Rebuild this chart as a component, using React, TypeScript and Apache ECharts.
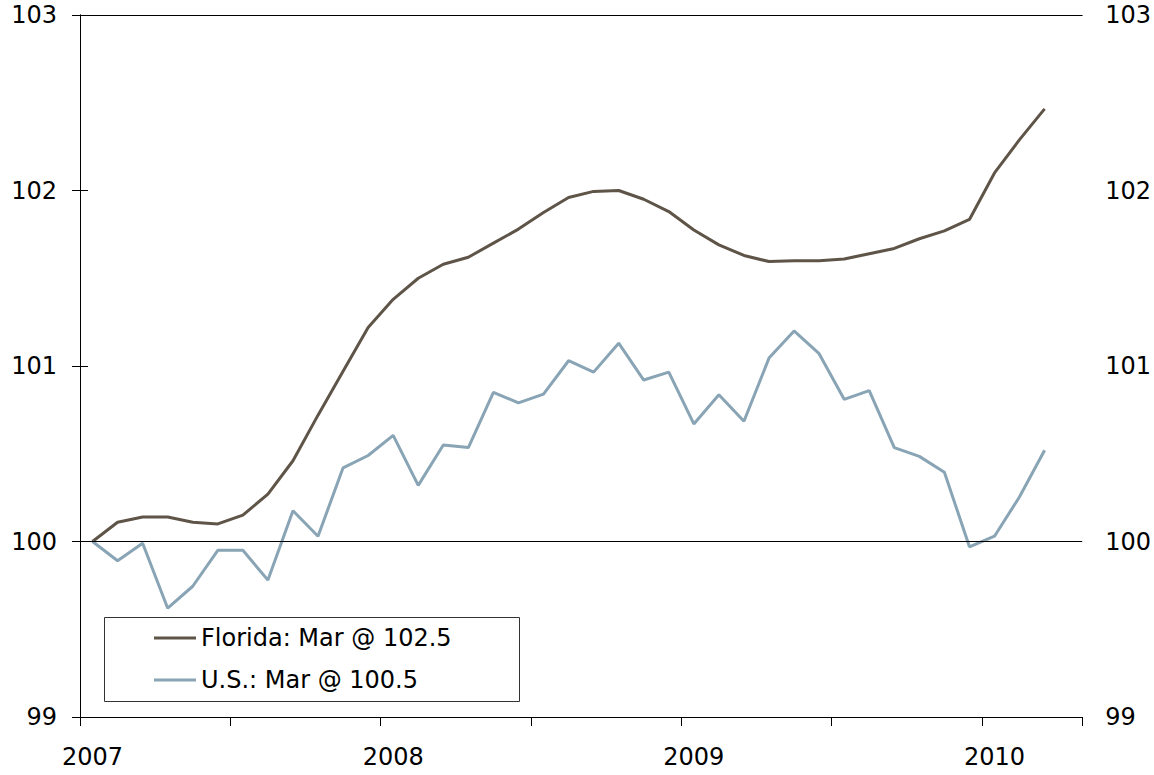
import React, { useEffect, useRef } from "react";
import * as echarts from "echarts";

// Monthly index values, Jan 2007 .. Mar 2010
const florida = [
  100.0, 100.11, 100.14, 100.14, 100.11, 100.1, 100.15, 100.27, 100.46, 100.72, 100.97, 101.22,
  101.38, 101.5, 101.58, 101.62, 101.7, 101.78, 101.875, 101.96, 101.995, 102.0, 101.95, 101.88,
  101.775, 101.69, 101.63, 101.595, 101.6, 101.6, 101.61, 101.64, 101.67, 101.725, 101.77, 101.835,
  102.1, 102.29, 102.465,
];
const us = [
  100.0, 99.89, 99.99, 99.62, 99.745, 99.95, 99.95, 99.78, 100.175, 100.03, 100.42, 100.49,
  100.605, 100.32, 100.55, 100.535, 100.85, 100.79, 100.84, 101.03, 100.965, 101.13, 100.92, 100.965,
  100.67, 100.836, 100.685, 101.045, 101.2, 101.07, 100.81, 100.86, 100.535, 100.485, 100.395, 99.97,
  100.03, 100.255, 100.52,
];
const years = ["2007", "2008", "2009", "2010"];
const seriesNames = ["Florida: Mar @ 102.5", "U.S.: Mar @ 100.5"];
const seriesColors = ["#5f5448", "#89a4b4"];
const yMin = 99;
const yMax = 103;
const monthsSpan = 40;

const FONT = "DejaVu Sans";

export default function App() {
  const ref = useRef<HTMLDivElement>(null);
  useEffect(() => {
    if (!ref.current) return;
    const chart = echarts.init(ref.current, null, { renderer: "svg" });
    const toPts = (arr: number[]) => arr.map((v, i) => [i + 0.5, v]);
    const yBase = {
      type: "value",
      min: yMin,
      max: yMax,
      interval: 1,
      splitLine: { show: false },
    };
    chart.setOption({
      animation: false,
      backgroundColor: "#ffffff",
      textStyle: { fontFamily: FONT },
      grid: { left: 80, right: 67, top: 15, bottom: 58, containLabel: false },
      xAxis: [
        {
          type: "value",
          min: 0,
          max: monthsSpan,
          interval: 6,
          position: "bottom",
          axisLine: { show: true, onZero: false, lineStyle: { color: "#000", width: 1 } },
          axisTick: { show: true, inside: false, length: 9, lineStyle: { color: "#000" } },
          axisLabel: { show: false },
          splitLine: { show: false },
        },
        {
          type: "value",
          min: 0,
          max: monthsSpan,
          interval: 0.5,
          position: "bottom",
          axisLine: { show: false },
          axisTick: { show: false },
          splitLine: { show: false },
          axisLabel: {
            show: true,
            margin: 28,
            fontSize: 24,
            color: "#000",
            fontFamily: FONT,
            formatter: (v: number) => {
              const k = v - 0.5;
              if (k >= 0 && Math.abs(k % 12) < 1e-6) {
                const idx = Math.round(k / 12);
                return years[idx] ?? "";
              }
              return "";
            },
          },
        },
        {
          type: "value",
          min: 0,
          max: monthsSpan,
          position: "top",
          axisLine: { show: true, onZero: false, lineStyle: { color: "#000", width: 1 } },
          axisTick: { show: false },
          axisLabel: { show: false },
          splitLine: { show: false },
        },
      ],
      yAxis: [
        {
          ...yBase,
          position: "left",
          axisLine: { show: true, lineStyle: { color: "#000", width: 1 } },
          axisTick: { show: true, length: 8, lineStyle: { color: "#000" } },
          axisLabel: { margin: 23, fontSize: 24, color: "#000", fontFamily: FONT },
        },
        {
          ...yBase,
          position: "right",
          axisLine: { show: true, lineStyle: { color: "#000", width: 1 } },
          axisTick: { show: true, length: 8, lineStyle: { color: "#000" } },
          axisLabel: { margin: 23, fontSize: 24, color: "#000", fontFamily: FONT },
        },
        {
          ...yBase,
          position: "right",
          axisLine: { show: false },
          axisTick: { show: true, inside: true, length: 8, lineStyle: { color: "#000" } },
          axisLabel: { show: false },
        },
      ],
      legend: {
        show: true,
        orient: "vertical",
        left: 154,
        top: 626,
        padding: 0,
        itemGap: 18,
        itemWidth: 42,
        itemHeight: 3,
        icon: "rect",
        textStyle: { fontSize: 24, color: "#000", fontFamily: FONT, padding: [0, 0, 0, 0] },
        data: seriesNames,
      },
      graphic: [
        {
          type: "rect",
          z: 1,
          shape: { x: 104.5, y: 617.5, width: 415, height: 84 },
          style: { fill: "#ffffff", stroke: "#333333", lineWidth: 1 },
        },
      ],
      series: [
        {
          name: seriesNames[0],
          type: "line",
          xAxisIndex: 0,
          yAxisIndex: 0,
          data: toPts(florida),
          symbol: "none",
          lineStyle: { color: seriesColors[0], width: 3 },
          itemStyle: { color: seriesColors[0] },
          z: 3,
          markLine: {
            silent: true,
            symbol: "none",
            label: { show: false },
            lineStyle: { color: "#000", width: 1, type: "solid" },
            data: [{ yAxis: 100 }],
          },
        },
        {
          name: seriesNames[1],
          type: "line",
          xAxisIndex: 0,
          yAxisIndex: 0,
          data: toPts(us),
          symbol: "none",
          lineStyle: { color: seriesColors[1], width: 3 },
          itemStyle: { color: seriesColors[1] },
          z: 3,
        },
      ],
    });
    return () => chart.dispose();
  }, []);
  return (
    <div
      ref={ref}
      style={{ position: "absolute", left: 0, top: 0, width: 1154, height: 775 }}
    />
  );
}
